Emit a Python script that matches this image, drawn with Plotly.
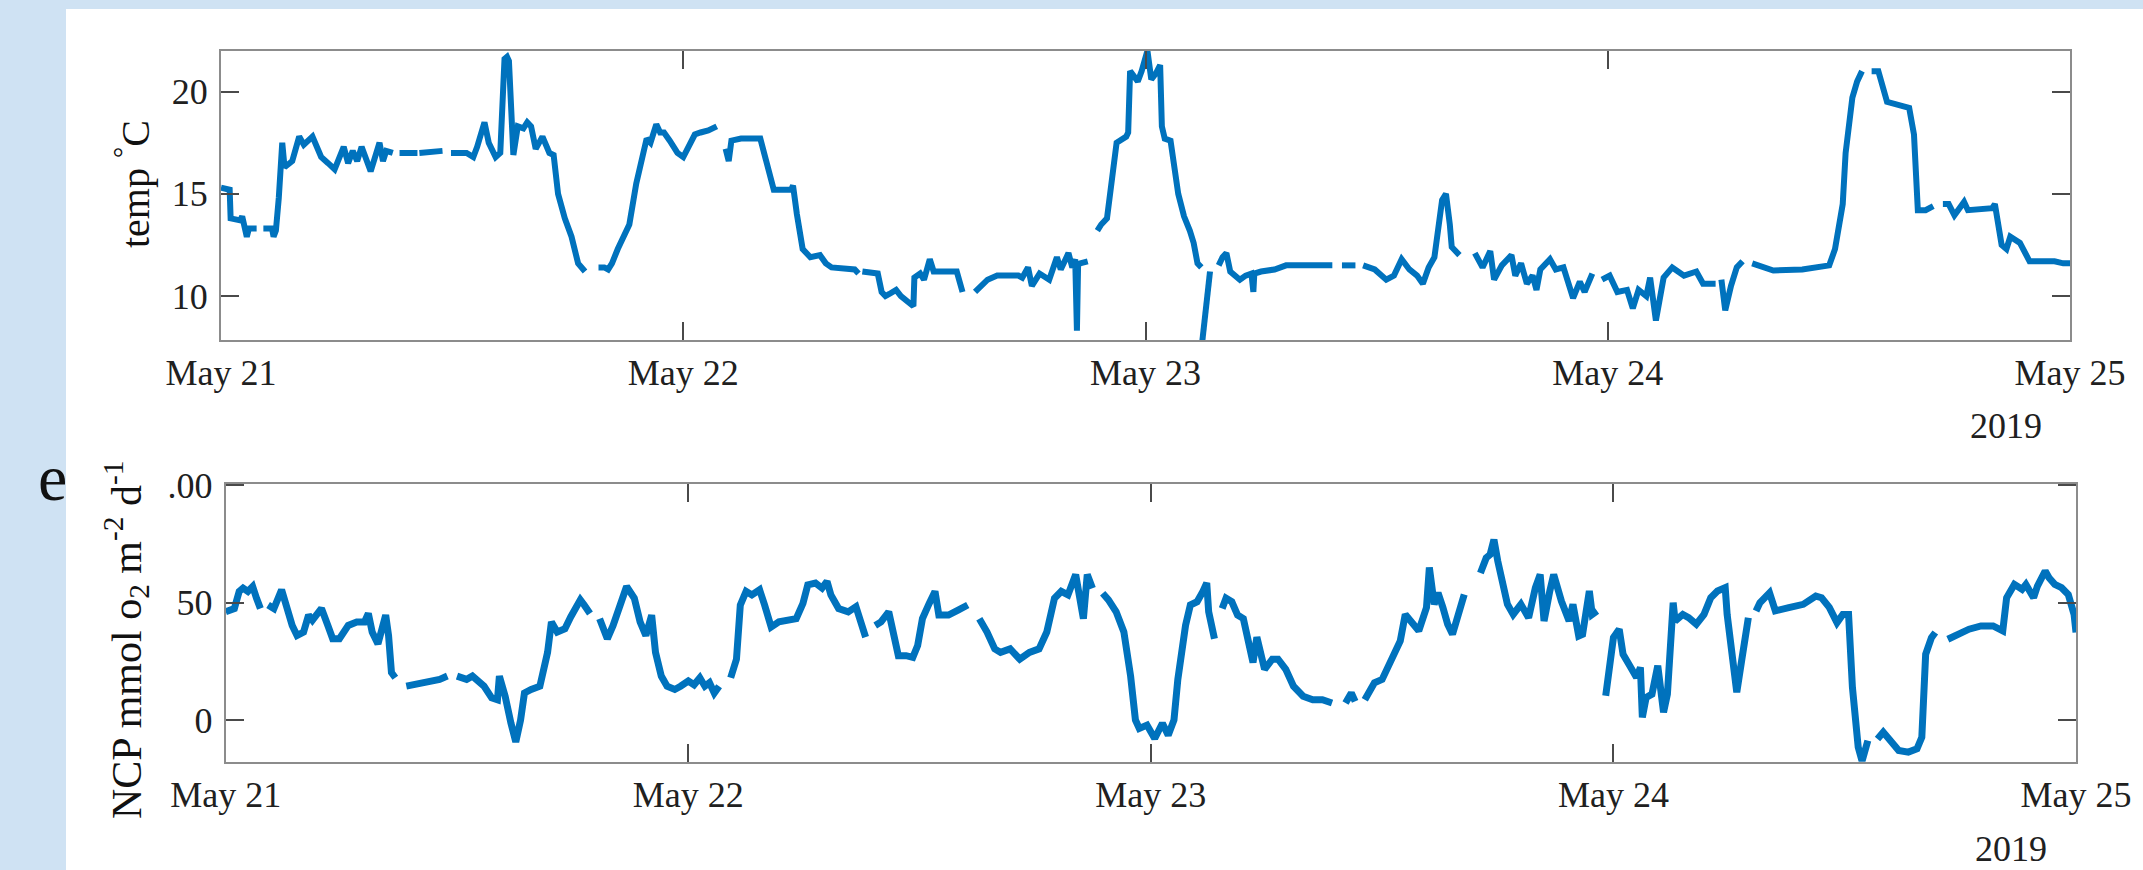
import pandas as pd
import plotly.graph_objects as go

# ---- data: hours after 2019-05-21 00:00, None marks a gap in the record ----
temp_hours = [
    0.0, 0.45, 0.5, 1.0, 1.1, 1.2, 1.34, 1.45, 1.85, None,
    2.2, 2.65, 2.73, 2.85, 3.0, 3.1, 3.18, 3.3, 3.7, 4.06, 4.3, 4.75, 5.2, 5.56, 5.9,
    6.37, 6.6, 6.84, 7.07, 7.3, 7.77, 8.23, 8.41, 8.58, 8.92, None,
    9.27, 10.2, None, 10.3, 11.5, None,
    11.94, 12.75, 13.1, 13.3, 13.68, 13.9, 14.26, 14.5, 14.72, 14.85, 14.95, 15.18,
    15.41, 15.7, 15.9, 16.1, 16.34, 16.69, 17.05, 17.27, 17.5, 17.85, 18.2, 18.54, 18.9, None,
    19.6, 19.9, 20.1, 20.3, 20.6, 21.2, 21.56, 21.9, 22.1, 22.3, 22.6, 22.8, 23.0,
    23.3, 23.7, 24.0, 24.3, 24.6, 24.9, 25.3, 25.74, None,
    26.2, 26.36, 26.5, 27.0, 28.0, 28.35, 28.7, 29.6, 29.7, 29.9, 30.2, 30.6, 31.1,
    31.4, 31.7, 32.9, 33.1, None,
    33.3, 34.1, 34.3, 34.5, 34.7, 35.05, 35.3, 35.55, 35.8, 35.95, 36.0, 36.3, 36.5,
    36.8, 37.0, 38.2, 38.5, None,
    39.15, 39.5, 39.8, 40.3, 41.4, 41.6, 41.9, 42.1, 42.5, 43.0, 43.4, 43.6, 43.8,
    44.0, 44.2, 44.35, 44.44, 44.5, 44.6, 45.0, None,
    45.5, 45.7, 46.0, 46.5, 47.0, 47.1, 47.2, 47.4, 47.6, 47.8, 48.1, 48.3, 48.55,
    48.76, 48.85, 49.0, 49.3, 49.7, 50.0, 50.3, 50.5, 50.7, 50.9, None,
    50.95, 51.1, 51.3, 51.35, None,
    51.8, 52.0, 52.2, 52.4, 52.9, 53.2, 53.5, 53.6, 53.65, 54.0, 54.7, 55.3, 55.7, 57.7, None,
    58.2, 58.9, None,
    59.3, 59.9, 60.5, 60.9, 61.3, 61.7, 62.1, 62.4, 62.7, 63.0, 63.4, 63.6, 63.8, 63.9, 64.3, None,
    65.1, 65.5, 65.9, 66.1, 66.5, 67.0, 67.2, 67.5, 67.8, 68.1, 68.3, 68.5, 69.0,
    69.3, 69.7, 70.2, 70.55, 70.8, 71.2, None,
    71.7, 72.1, 72.5, 73.0, 73.3, 73.6, 74.0, 74.2, 74.5, 74.9, 75.35, 75.96, 76.6,
    76.95, 77.6, None,
    77.9, 78.1, 78.4, 78.7, 79.0, None,
    79.5, 80.1, 80.6, 82.1, 82.9, 83.5, 83.8, 84.2, 84.35, 84.7, 84.95, 85.2, None,
    85.7, 86.05, 86.5, 87.0, 87.65, 87.9, 88.0, 88.1, 88.5, 88.9, None,
    89.4, 89.7, 90.0, 90.5, 90.7, 91.96, 92.1, 92.45, 92.7, 92.9, 93.4, 93.9, 95.2,
    95.65, 96.0,
]
temp_values = [
    15.3, 15.2, 13.8, 13.7, 13.9, 13.5, 12.9, 13.3, 13.3, None,
    13.3, 13.3, 12.9, 13.2, 14.8, 16.2, 17.5, 16.3, 16.6, 17.8, 17.4, 17.8, 16.8, 16.5, 16.2,
    17.3, 16.5, 17.1, 16.6, 17.3, 16.1, 17.5, 16.6, 17.1, 17.0, None,
    17.0, 17.0, None, 17.0, 17.1, None,
    17.0, 17.0, 16.8, 17.3, 18.5, 17.5, 16.8, 17.0, 21.6, 21.7, 21.5, 16.9,
    18.3, 18.2, 18.5, 18.3, 17.2, 17.8, 17.0, 16.9, 15.0, 13.8, 12.9, 11.6, 11.2, None,
    11.4, 11.4, 11.3, 11.6, 12.3, 13.5, 15.5, 17.0, 17.7, 17.5, 18.4, 18.0, 18.0,
    17.6, 17.0, 16.8, 17.3, 17.9, 18.0, 18.1, 18.3, None,
    17.2, 16.6, 17.6, 17.7, 17.7, 16.5, 15.2, 15.2, 15.4, 14.0, 12.3, 11.9, 12.0,
    11.6, 11.4, 11.3, 11.1, None,
    11.2, 11.1, 10.2, 10.0, 10.1, 10.3, 10.0, 9.8, 9.6, 9.5, 10.9, 11.1, 10.8,
    11.8, 11.2, 11.2, 10.2, None,
    10.2, 10.5, 10.8, 11.0, 11.0, 10.9, 11.4, 10.5, 11.1, 10.8, 11.9, 11.3, 11.7,
    12.1, 11.4, 11.8, 8.3, 11.5, 11.6, 11.7, None,
    13.2, 13.5, 13.8, 17.5, 17.8, 18.0, 21.0, 20.7, 20.5, 21.0, 22.0, 20.6, 20.9,
    21.3, 18.3, 17.7, 17.6, 15.0, 13.9, 13.2, 12.6, 11.6, 11.4, None,
    7.8, 9.0, 10.8, 11.2, None,
    11.5, 11.9, 12.1, 11.2, 10.8, 11.0, 11.1, 10.2, 11.1, 11.2, 11.3, 11.5, 11.5, 11.5, None,
    11.5, 11.5, None,
    11.5, 11.3, 10.8, 11.0, 11.8, 11.3, 11.0, 10.6, 11.4, 11.9, 14.7, 15.0, 13.5, 12.4, 12.0, None,
    12.1, 11.4, 12.2, 10.8, 11.5, 12.0, 11.0, 11.6, 10.6, 11.0, 10.3, 11.3, 11.8,
    11.3, 11.4, 9.9, 10.7, 10.2, 11.1, None,
    10.8, 11.0, 10.2, 10.3, 9.4, 10.3, 10.0, 10.9, 8.8, 10.9, 11.4, 11.0, 11.2,
    10.6, 10.6, None,
    10.8, 9.3, 10.5, 11.4, 11.7, None,
    11.6, 11.4, 11.25, 11.3, 11.4, 11.5, 12.3, 14.5, 17.0, 19.7, 20.5, 21.0, None,
    21.0, 21.0, 19.5, 19.35, 19.2, 17.9, 15.5, 14.2, 14.2, 14.4, None,
    14.5, 14.5, 13.95, 14.6, 14.2, 14.3, 14.5, 12.5, 12.3, 12.9, 12.6, 11.7, 11.7,
    11.6, 11.6,
]

ncp_hours = [
    0.0, 0.2, 0.45, 0.7, 0.9, 1.15, 1.4, 1.6, 1.8, None,
    2.2, 2.5, 2.9, 3.1, 3.45, 3.7, 4.04, 4.3, 4.5, 4.7, 4.97, 5.3, 5.55, 5.9, 6.36,
    6.8, 7.2, 7.4, 7.6, 7.9, 8.1, 8.3, 8.45, 8.6, 8.8, None,
    9.37, 9.8, 10.5, 11.1, 11.5, None,
    12.0, 12.5, 12.8, 13.2, 13.4, 13.8, 14.1, 14.2, 14.5, 14.8, 15.05, 15.3, 15.5,
    15.85, 16.3, 16.7, 16.9, 17.2, 17.6, 17.9, 18.2, 18.4, 18.6, 18.9, None,
    19.4, 19.8, 20.1, 20.5, 20.8, 21.2, 21.5, 21.8, 22.1, 22.3, 22.6, 22.9, 23.3,
    23.6, 24.0, 24.3, 24.6, 24.86, 25.1, 25.35, 25.6, None,
    26.2, 26.5, 26.7, 27.0, 27.3, 27.7, 27.96, 28.3, 28.7, 29.1, 29.6, 29.95, 30.2,
    30.6, 30.94, 31.2, 31.4, 31.8, 32.3, 32.7, 32.9, 33.2, None,
    33.7, 34.0, 34.4, 34.7, 34.9, 35.3, 35.65, 35.9, 36.15, 36.5, 36.8, 37.0, 37.5,
    38.0, 38.5, None,
    39.1, 39.5, 39.9, 40.2, 40.7, 41.2, 41.7, 42.2, 42.6, 43.0, 43.35, 43.7, 44.1,
    44.3, 44.5, 44.7, 44.97, None,
    45.5, 45.8, 46.2, 46.6, 46.95, 47.2, 47.4, 47.8, 48.2, 48.6, 48.9, 49.2, 49.4,
    49.8, 50.05, 50.4, 50.7, 50.9, 51.0, 51.3, None,
    51.7, 51.9, 52.2, 52.5, 52.8, 53.0, 53.3, 53.5, 53.9, 54.3, 54.6, 55.0, 55.4,
    55.9, 56.4, 56.9, 57.4, None,
    58.1, 58.4, 58.6, None,
    59.1, 59.6, 60.0, 60.5, 60.94, 61.2, 61.56, 61.9, 62.3, 62.45, 62.7, 62.9, 63.15,
    63.4, 63.65, 64.0, 64.26, None,
    65.1, 65.4, 65.6, 65.8, 66.0, 66.2, 66.5, 66.8, 67.2, 67.6, 67.95, 68.2, 68.4,
    68.7, 68.9, 69.3, 69.7, 69.9, 70.2, 70.4, 70.75, 70.9, 71.15, None,
    71.6, 71.8, 72.0, 72.3, 72.5, 72.9, 73.2, 73.4, 73.5, 73.7, 74.0, 74.3, 74.6,
    74.8, 75.1, 75.2, 75.6, 75.9, 76.3, 76.7, 77.05, 77.4, 77.8, 77.9, 78.2, 78.4,
    78.65, 79.0, None,
    79.4, 79.6, 80.1, 80.4, 81.1, 81.85, 82.5, 82.8, 83.2, 83.6, 83.9, 84.2, 84.4,
    84.7, 84.9, 85.2, None,
    85.7, 86.0, 86.3, 86.8, 87.3, 87.75, 88.0, 88.2, 88.5, 88.7, None,
    89.35, 89.8, 90.45, 91.07, 91.7, 92.2, 92.4, 92.8, 93.2, 93.4, 93.8, 94.0, 94.4,
    94.6, 94.9, 95.25, 95.6, 95.9, 96.0,
]
ncp_values = [
    46.1, 46.8, 47.5, 54.8, 56.2, 54.8, 56.9, 51.9, 47.5, None,
    49.0, 47.5, 55.5, 49.0, 40.3, 36.0, 37.5, 44.7, 42.5, 44.7, 47.5, 40.3, 34.6, 34.6, 40.3,
    41.8, 41.8, 45.4, 37.5, 32.4, 38.2, 44.7, 36.0, 20.2, 18.0, None,
    14.4, 15.1, 15.9, 17.3, 18.7, None,
    18.7, 17.3, 18.7, 15.1, 14.4, 9.4, 8.6, 18.7, 10.1, -1.4, -9.4, 0.0, 11.5,
    13.0, 14.4, 28.8, 41.8, 37.5, 38.9, 43.9, 47.5, 51.2, 49.0, 45.4, None,
    43.2, 34.6, 40.3, 49.0, 56.9, 51.9, 41.8, 36.0, 44.7, 28.8, 18.7, 14.4, 13.0,
    14.4, 16.6, 15.0, 18.0, 14.4, 15.9, 11.5, 14.4, None,
    18.0, 25.9, 49.0, 54.8, 53.3, 55.5, 49.0, 39.6, 41.8, 42.5, 43.2, 49.7, 57.6,
    58.4, 56.2, 59.1, 53.3, 47.5, 46.1, 48.3, 43.2, 35.3, None,
    40.3, 41.8, 46.1, 33.1, 27.4, 27.4, 26.7, 31.7, 43.2, 49.7, 54.8, 44.7, 44.7,
    46.8, 49.0, None,
    43.2, 37.5, 30.3, 28.8, 30.3, 25.9, 28.8, 30.3, 37.5, 51.9, 54.8, 53.3, 62.0,
    52.0, 43.2, 62.0, 56.2, None,
    54.0, 51.2, 46.1, 37.5, 18.7, 0.0, -3.6, -2.2, -7.9, -1.4, -6.5, 0.0, 17.3,
    40.3, 49.0, 50.4, 54.8, 58.4, 46.1, 34.6, None,
    47.5, 51.9, 50.4, 44.7, 43.2, 34.6, 24.5, 35.3, 21.6, 25.9, 25.9, 21.6, 14.4,
    10.1, 8.6, 8.6, 7.2, None,
    7.2, 11.5, 7.9, None,
    8.6, 15.9, 17.3, 25.9, 33.7, 45.0, 40.8, 38.0, 47.9, 65.0, 49.3, 54.2, 48.0,
    40.8, 36.5, 48.0, 53.5, None,
    62.7, 69.1, 70.5, 76.9, 67.7, 60.6, 49.3, 45.0, 49.3, 43.6, 56.4, 62.0, 42.2,
    55.0, 62.0, 50.7, 42.2, 49.3, 35.8, 36.5, 55.0, 45.0, 46.5, None,
    10.3, 25.2, 35.1, 38.7, 28.0, 22.4, 18.1, 22.4, 1.1, 9.6, 11.0, 23.1, 3.3,
    11.0, 50.0, 42.2, 45.0, 43.6, 40.8, 45.0, 52.1, 55.0, 56.4, 45.0, 25.2, 11.8,
    25.2, 43.6, None,
    46.5, 50.0, 54.2, 46.5, 47.9, 49.3, 52.8, 52.1, 48.0, 41.5, 45.0, 45.0, 13.9,
    -11.6, -17.5, -8.8, None,
    -8.1, -5.2, -8.1, -13.0, -13.7, -12.3, -7.4, 28.0, 35.1, 37.3, None,
    34.4, 36.5, 38.7, 40.1, 40.1, 38.0, 52.1, 57.8, 55.7, 57.8, 52.1, 57.1, 63.5,
    60.6, 57.8, 56.4, 53.5, 45.0, 37.3,
]

day_ticks = ["2019-05-21", "2019-05-22", "2019-05-23", "2019-05-24", "2019-05-25"]
day_labels = ["May 21", "May 22", "May 23", "May 24", "May 25"]
temp_ticks = [10, 15, 20]
ncp_ticks = [0, 50, 100]
ncp_tick_labels = ["0", "50", ".00"]

START = pd.Timestamp("2019-05-21")


def to_times(hours):
    out = []
    for h in hours:
        if h is None:
            out.append(None)
        else:
            out.append((START + pd.Timedelta(hours=h)).strftime("%Y-%m-%d %H:%M:%S"))
    return out


W, H = 2143, 870
BLUE = "#0072BD"
SERIF = "Liberation Serif, Times New Roman, serif"
TXT = "#202020"


def px(x):
    return x / W


def py(y):
    return 1 - y / H


fig = go.Figure()
fig.add_trace(go.Scatter(
    x=to_times(temp_hours), y=temp_values, mode="lines",
    line=dict(color=BLUE, width=6), xaxis="x", yaxis="y",
    connectgaps=False, showlegend=False, hoverinfo="skip",
))
fig.add_trace(go.Scatter(
    x=to_times(ncp_hours), y=ncp_values, mode="lines",
    line=dict(color=BLUE, width=7), xaxis="x2", yaxis="y2",
    connectgaps=False, showlegend=False, hoverinfo="skip",
))

tick_font = dict(family=SERIF, size=36, color=TXT)
common_x = dict(
    type="date", range=[day_ticks[0], day_ticks[-1]],
    tickmode="array", tickvals=day_ticks, ticktext=day_labels,
    ticks="inside", ticklen=18, tickwidth=1.5, tickcolor="#4a4a4a",
    showline=True, linecolor="#8c8c8c", linewidth=2, mirror="ticks",
    showgrid=False, zeroline=False, tickfont=tick_font, fixedrange=True,
    automargin=False,
)
common_y = dict(
    tickmode="array", ticks="inside", ticklen=18, tickwidth=1.5, tickcolor="#4a4a4a",
    showline=True, linecolor="#8c8c8c", linewidth=2, mirror="ticks",
    showgrid=False, zeroline=False, tickfont=tick_font, fixedrange=True,
    automargin=False, ticklabelstandoff=4,
)

fig.update_layout(
    template="none",
    width=W, height=H,
    margin=dict(l=0, r=0, t=0, b=0, pad=0, autoexpand=False),
    paper_bgcolor="#cfe2f3",
    plot_bgcolor="white",
    xaxis=dict(common_x, domain=[px(221), px(2070)], anchor="y"),
    yaxis=dict(common_y, domain=[py(340), py(50.7)], anchor="x",
               range=[7.85, 22.0], tickvals=temp_ticks,
               ticktext=[str(v) for v in temp_ticks]),
    xaxis2=dict(common_x, domain=[px(225.7), px(2076)], anchor="y2"),
    yaxis2=dict(common_y, domain=[py(761.7), py(484)], anchor="x2",
                range=[-17.8, 100.6], tickvals=ncp_ticks, ticktext=ncp_tick_labels),
    shapes=[
        # white slide panel
        dict(type="rect", xref="paper", yref="paper", layer="below",
             x0=px(66), x1=1, y0=0, y1=py(9),
             fillcolor="white", line=dict(width=0)),
    ],
    annotations=[
        dict(text="temp <sup>°</sup>C", textangle=-90, showarrow=False,
             xref="paper", yref="paper", x=px(132), y=py(184),
             xanchor="center", yanchor="middle",
             font=dict(family=SERIF, size=40, color="#111111")),
        dict(text="NCP mmol o<sub>2</sub> m<sup>-2</sup> d<sup>-1</sup>", textangle=-90,
             showarrow=False, xref="paper", yref="paper", x=px(126), y=py(640),
             xanchor="center", yanchor="middle",
             font=dict(family=SERIF, size=42, color="#111111")),
        dict(text="2019", showarrow=False, xref="paper", yref="paper",
             x=px(2006), y=py(426), xanchor="center", yanchor="middle",
             font=tick_font),
        dict(text="2019", showarrow=False, xref="paper", yref="paper",
             x=px(2011), y=py(849), xanchor="center", yanchor="middle",
             font=tick_font),
        dict(text="e", showarrow=False, xref="paper", yref="paper",
             x=px(52), y=py(477), xanchor="center", yanchor="middle",
             font=dict(family=SERIF, size=66, color="#111111")),
    ],
)

fig.write_html("out.html")
